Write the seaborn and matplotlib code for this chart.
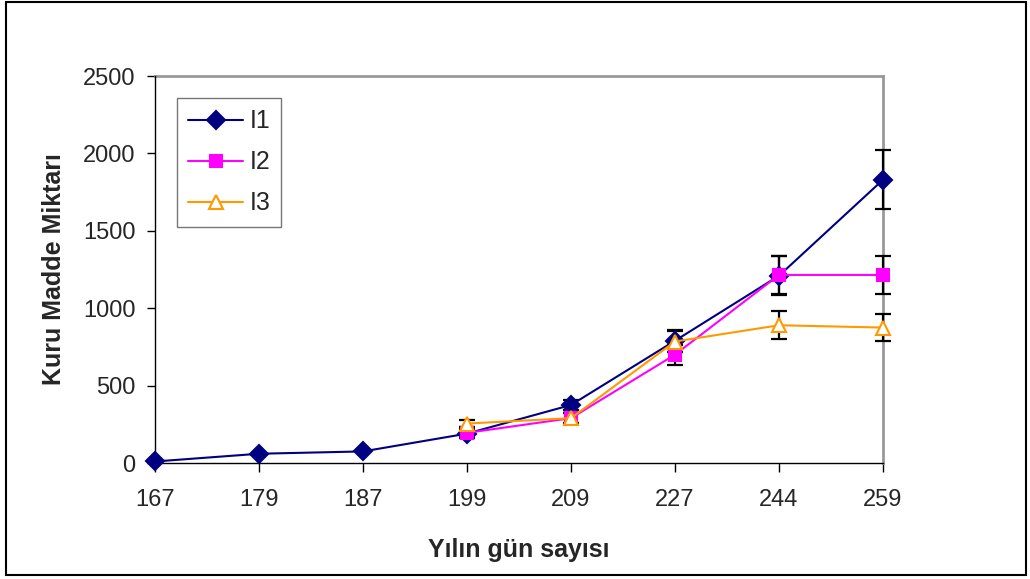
"""Kuru madde miktari - I1, I2, I3 serileri."""

import matplotlib
matplotlib.use("Agg")
import matplotlib.pyplot as plt
import pandas as pd
import seaborn as sns
from matplotlib.patches import Rectangle


days = ["167", "179", "187", "199", "209", "227", "244", "259"]
i1 = [10, 60, 75, 190, 375, 790, 1210, 1830]
i2 = [None, None, None, 195, 290, 700, 1215, 1215]
i3 = [None, None, None, 255, 290, 785, 890, 875]
i1_err = [0, 0, 0, 30, 35, 70, 125, 190]
i2_err = [0, 0, 0, 35, 30, 65, 120, 120]
i3_err = [0, 0, 0, 25, 30, 70, 90, 85]

SERIES = [
    ("I1", i1, i1_err, "#000080", "D", "#000080", 9.5),
    ("I2", i2, i2_err, "#FF00FF", "s", "#FF00FF", 8.5),
    ("I3", i3, i3_err, "#FF9900", "^", "white", 9.5),
]


def main() -> None:
    sns.set_theme(style="white")
    plt.rcParams["font.family"] = ["Liberation Sans", "DejaVu Sans"]

    fig = plt.figure(figsize=(10.30, 5.79), dpi=100)
    ax = fig.add_axes([0.1505, 0.2003, 0.7068, 0.6684])

    pos = list(range(len(days)))
    for name, vals, errs, color, marker, face, msize in SERIES:
        df = pd.DataFrame({"x": pos, "y": vals, "err": errs}).dropna()
        sns.lineplot(data=df, x="x", y="y", ax=ax, color=color, linewidth=1.5,
                     marker=marker, markersize=msize,
                     markerfacecolor=face, markeredgecolor=color,
                     markeredgewidth=1.5, label=name, zorder=4, clip_on=False)
        eb = df[df["err"] > 0]
        cont = ax.errorbar(eb["x"], eb["y"], yerr=eb["err"], fmt="none", ecolor="black",
                           elinewidth=1.6, capsize=5.5, capthick=1.6, zorder=3)
        for art in cont.lines[1] + cont.lines[2]:
            art.set_clip_on(False)

    ax.set_xlim(0, len(days) - 1)
    ax.set_ylim(0, 2500)
    ax.set_xticks(pos)
    ax.set_xticklabels(days, fontsize=17)
    ax.set_yticks(range(0, 2501, 500))
    ax.tick_params(axis="y", labelsize=17, length=6, width=1, color="black",
                   direction="out", left=True, pad=8)
    ax.tick_params(axis="x", length=6.5, width=1, color="black", direction="out",
                   bottom=True, pad=12)

    for side in ["left", "bottom"]:
        ax.spines[side].set_color("black")
        ax.spines[side].set_linewidth(1)
    for side in ["top", "right"]:
        ax.spines[side].set_color("#999999")
        ax.spines[side].set_linewidth(2)
        ax.spines[side].set_zorder(1)

    ax.set_xlabel("Yılın gün sayısı", fontsize=18, fontweight="bold", labelpad=20)
    ax.set_ylabel("Kuru Madde Miktarı", fontsize=18, fontweight="bold", labelpad=12)

    leg = ax.legend(loc="upper left", bbox_to_anchor=(0.030, 0.943), borderaxespad=0,
                    fontsize=18, frameon=True, fancybox=False, edgecolor="#555555",
                    handlelength=2.2, borderpad=0.45, labelspacing=0.68,
                    handletextpad=0.25)
    leg.get_frame().set_linewidth(1)
    leg.set_zorder(5)

    fig.patches.append(Rectangle((0.006, 0.007), 0.99, 0.99, transform=fig.transFigure,
                                 fill=False, edgecolor="black", linewidth=1.5))

    fig.savefig("out.png", dpi=100)
    plt.close(fig)


if __name__ == "__main__":
    main()
